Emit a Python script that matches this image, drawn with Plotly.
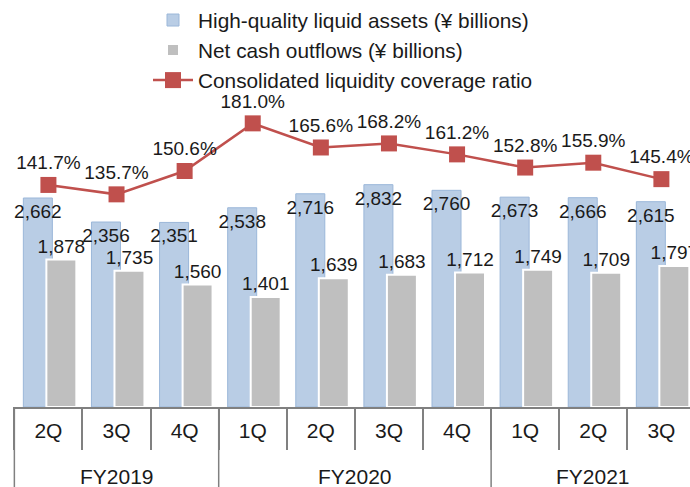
import plotly.graph_objects as go

fy = ["FY2019"] * 3 + ["FY2020"] * 4 + ["FY2021"] * 3
quarters = ["2Q", "3Q", "4Q", "1Q", "2Q", "3Q", "4Q", "1Q", "2Q", "3Q"]
hqla = [2662, 2356, 2351, 2538, 2716, 2832, 2760, 2673, 2666, 2615]
nco = [1878, 1735, 1560, 1401, 1639, 1683, 1712, 1749, 1709, 1797]
lcr = [141.7, 135.7, 150.6, 181.0, 165.6, 168.2, 161.2, 152.8, 155.9, 145.4]

cats = [f"{f} {q}" for f, q in zip(fy, quarters)]
FONT = "Liberation Sans, Arial, sans-serif"
TXT = "#1a1a1a"
AX = "#808080"

# fiscal-year groups (consecutive runs)
groups = []
for i, f in enumerate(fy):
    if groups and groups[-1][0] == f:
        groups[-1][2] = i
    else:
        groups.append([f, i, i])

fig = go.Figure()
fig.add_trace(go.Bar(
    x=cats, y=hqla, name="High-quality liquid assets (¥ billions)",
    width=0.426, offset=-0.368,
    marker=dict(color="#B9CDE5", line=dict(color="#9BB7D9", width=1)),
    text=[f"{v:,}" for v in hqla], textposition="inside", insidetextanchor="end",
    constraintext="none", textangle=0,
    textfont=dict(size=19, color=TXT, family=FONT),
))
fig.add_trace(go.Bar(
    x=cats, y=nco, name="Net cash outflows (¥ billions)",
    width=0.44, offset=-0.03,
    marker=dict(color="#BFBFBF", line=dict(color="#FFFFFF", width=2)),
    text=[f"{v:,}" for v in nco], textposition="outside",
    constraintext="none", textangle=0, cliponaxis=False,
    textfont=dict(size=19, color=TXT, family=FONT),
))
fig.add_trace(go.Scatter(
    x=cats, y=lcr, name="Consolidated liquidity coverage ratio", yaxis="y2",
    mode="lines+markers+text",
    line=dict(color="#C0504D", width=2.5),
    marker=dict(symbol="square", size=16, color="#C0504D"),
    text=[f"{v:.1f}%" for v in lcr], textposition="top center",
    textfont=dict(size=19, color=TXT, family=FONT),
    cliponaxis=False,
))

shapes = []
annotations = []
for name, i0, i1 in groups:
    shapes.append(dict(type="line", xref="x", yref="paper",
                       x0=i0 - 0.5, x1=i0 - 0.5, y0=0, y1=-0.25,
                       line=dict(color=AX, width=1.5)))
    annotations.append(dict(xref="x", yref="paper", x=(i0 + i1) / 2, y=-0.216,
                            text=name, showarrow=False, yanchor="middle",
                            font=dict(size=21, family=FONT, color=TXT)))

fig.update_layout(
    width=690, height=487,
    margin=dict(l=13, r=0, t=87, b=80, autoexpand=False),
    paper_bgcolor="white", plot_bgcolor="white",
    barmode="overlay",
    font=dict(family=FONT, size=19, color=TXT),
    showlegend=True,
    legend=dict(x=148 / 690, xref="container", y=1.026, yref="container",
                xanchor="left", yanchor="top",
                bgcolor="rgba(0,0,0,0)", font=dict(size=20.8, color=TXT),
                traceorder="normal", itemwidth=40, tracegroupgap=0),
    xaxis=dict(type="category", range=[-0.52, 9.42], automargin=False,
               tickmode="array", tickvals=cats, ticktext=quarters,
               tickson="boundaries", ticklabelstandoff=4,
               showline=True, linecolor=AX, linewidth=1.5,
               ticks="outside", ticklen=41, tickcolor=AX, tickwidth=1.5,
               tickfont=dict(size=21, family=FONT, color=TXT),
               showgrid=False),
    yaxis=dict(range=[0, 4076], visible=False, showgrid=False, fixedrange=True),
    yaxis2=dict(range=[0, 204.2], overlaying="y", visible=False, showgrid=False),
    shapes=shapes,
    annotations=annotations,
)

fig.write_html("out.html", config={"displayModeBar": False},
               post_script="document.body.style.margin='0';document.body.style.overflow='hidden';")
